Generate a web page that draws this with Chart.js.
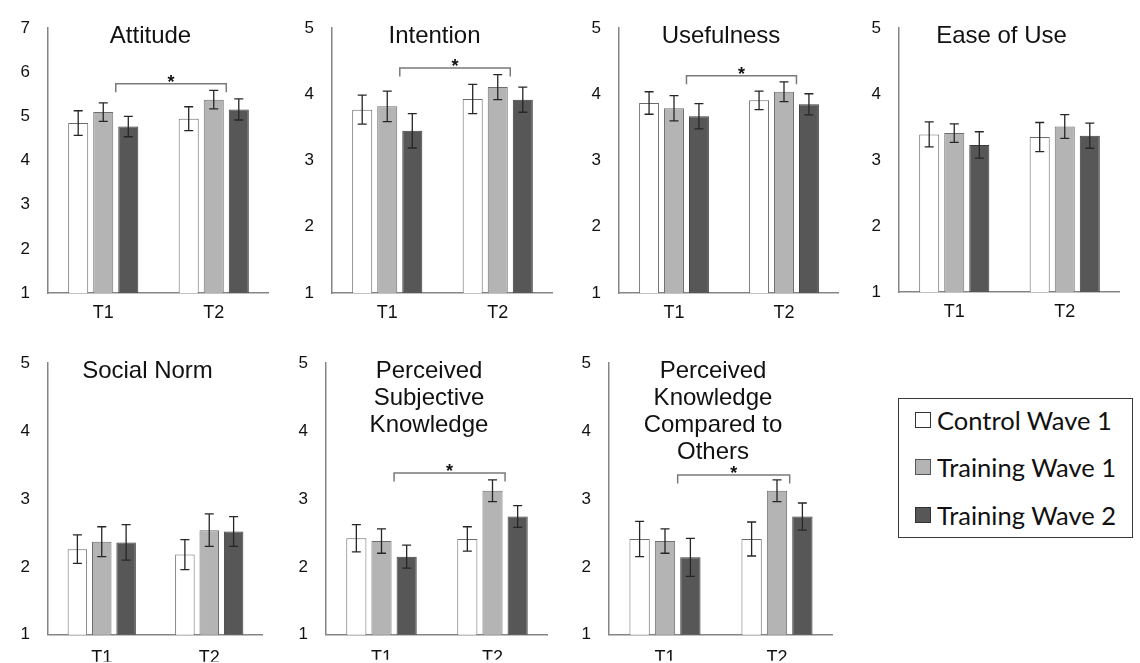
<!DOCTYPE html>
<html>
<head>
<meta charset="utf-8">
<script src="https://cdn.jsdelivr.net/npm/chart.js@4.4.1/dist/chart.umd.min.js"></script>
<style>
  body { margin: 0; background: #fff; }
  #page { position: relative; width: 1140px; height: 663px; overflow: hidden; background: #fff; }
  .panel { position: absolute; }
  #legend { position: absolute; left: 898px; top: 398px; width: 233px; height: 138px;
            border: 1.5px solid #3a3a3a; font-family: Lato, sans-serif; font-size: 25.5px; color: #111; }
  .row { position: absolute; left: 16px; height: 30px; display: flex; align-items: center; white-space: nowrap; }
  .sw { width: 16px; height: 16px; margin-right: 6px; box-sizing: border-box; }
</style>
</head>
<body>
<div id="page">
  <div class="panel" id="p0"><canvas id="c0"></canvas></div>
  <div class="panel" id="p1"><canvas id="c1"></canvas></div>
  <div class="panel" id="p2"><canvas id="c2"></canvas></div>
  <div class="panel" id="p3"><canvas id="c3"></canvas></div>
  <div class="panel" id="p4"><canvas id="c4"></canvas></div>
  <div class="panel" id="p5"><canvas id="c5"></canvas></div>
  <div class="panel" id="p6"><canvas id="c6"></canvas></div>
  <div id="legend"></div>
</div>
<script>
const timeLabels = ['T1', 'T2'];
const groupNames = ['Control Wave 1', 'Training Wave 1', 'Training Wave 2'];
const groupFill = ['#ffffff', '#b4b4b4', '#575757'];
const groupEdge = ['#6b6b6b', '#6e6e6e', '#3b3b3b'];

// means and error bars, one row per group, [T1, T2]
const attitudeMean = [[4.85, 4.95], [5.10, 5.38], [4.77, 5.16]];
const attitudeErr = [[0.28, 0.27], [0.21, 0.21], [0.23, 0.24]];
const intentionMean = [[3.77, 3.93], [3.82, 4.11], [3.45, 3.92]];
const intentionErr = [[0.22, 0.22], [0.23, 0.19], [0.26, 0.19]];
const usefulMean = [[3.87, 3.91], [3.79, 4.04], [3.67, 3.85]];
const usefulErr = [[0.17, 0.14], [0.19, 0.15], [0.19, 0.16]];
const easeMean = [[3.39, 3.35], [3.41, 3.51], [3.23, 3.37]];
const easeErr = [[0.19, 0.22], [0.14, 0.18], [0.20, 0.19]];
const normMean = [[2.26, 2.18], [2.37, 2.54], [2.36, 2.52]];
const normErr = [[0.21, 0.22], [0.22, 0.24], [0.26, 0.22]];
const subjMean = [[2.42, 2.41], [2.38, 3.12], [2.15, 2.74]];
const subjErr = [[0.20, 0.18], [0.18, 0.16], [0.17, 0.16]];
const othersMean = [[2.41, 2.41], [2.38, 3.12], [2.14, 2.74]];
const othersErr = [[0.26, 0.25], [0.18, 0.16], [0.28, 0.20]];

const panelTitles = [
  ['Attitude'], ['Intention'], ['Usefulness'], ['Ease of Use'],
  ['Social Norm'], ['Perceived', 'Subjective', 'Knowledge'],
  ['Perceived', 'Knowledge', 'Compared to', 'Others']
];
const panelMeans = [attitudeMean, intentionMean, usefulMean, easeMean, normMean, subjMean, othersMean];
const panelErrs = [attitudeErr, intentionErr, usefulErr, easeErr, normErr, subjErr, othersErr];
const yTop = [7, 5, 5, 5, 5, 5, 5];
// height of the T1-T2 significance bracket, null when none
const bracketAt = [5.74, 4.40, 4.28, null, null, 3.38, 3.35];

// ----------------------------------------------------------------
// where each small chart sits on the page
const boxes = [
  { left: 0,   top: 0,   w: 269, h: 330, padTop: 19, xh: 37, lp: 9 },
  { left: 284, top: 0,   w: 269, h: 330, padTop: 20, xh: 37, lp: 9 },
  { left: 571, top: 0,   w: 268, h: 330, padTop: 19, xh: 37, lp: 9 },
  { left: 851, top: 0,   w: 269, h: 330, padTop: 19, xh: 38, lp: 9 },
  { left: 0,   top: 330, w: 263, h: 333, padTop: 33, xh: 27, lp: 12 },
  { left: 278, top: 330, w: 270, h: 333, padTop: 33, xh: 25, lp: 12 },
  { left: 561, top: 330, w: 272, h: 333, padTop: 33, xh: 26, lp: 12 }
];

const decorations = {
  id: 'decorations',
  afterDatasetsDraw(chart, args, opts) {
    const ctx = chart.ctx;
    const y = chart.scales.y;
    const area = chart.chartArea;
    ctx.save();

    // error bars
    ctx.strokeStyle = '#262626';
    ctx.lineWidth = 1.3;
    opts.err.forEach((errs, g) => {
      chart.getDatasetMeta(g).data.forEach((bar, t) => {
        const v = opts.mean[g][t];
        const hi = y.getPixelForValue(v + errs[t]);
        const lo = y.getPixelForValue(v - errs[t]);
        ctx.beginPath();
        ctx.moveTo(bar.x, hi); ctx.lineTo(bar.x, lo);
        ctx.moveTo(bar.x - 4.5, hi); ctx.lineTo(bar.x + 4.5, hi);
        ctx.moveTo(bar.x - 4.5, lo); ctx.lineTo(bar.x + 4.5, lo);
        ctx.stroke();
      });
    });

    // significance bracket
    if (opts.bracket != null) {
      const mid = chart.getDatasetMeta(1).data, dark = chart.getDatasetMeta(2).data;
      const xl = (mid[0].x + dark[0].x) / 2;
      const xr = (mid[1].x + dark[1].x) / 2;
      const by = y.getPixelForValue(opts.bracket);
      ctx.strokeStyle = '#7a7a7a';
      ctx.lineWidth = 1.5;
      ctx.beginPath();
      ctx.moveTo(xl, by + 8.5); ctx.lineTo(xl, by); ctx.lineTo(xr, by); ctx.lineTo(xr, by + 8.5);
      ctx.stroke();
      ctx.fillStyle = '#111';
      ctx.font = 'bold 18px "Liberation Sans"';
      ctx.textAlign = 'center';
      ctx.textBaseline = 'alphabetic';
      ctx.fillText('*', (xl + xr) / 2, by + 4);
    }

    // title inside the plot
    ctx.fillStyle = '#111';
    ctx.font = '24px "Liberation Sans"';
    ctx.textAlign = 'center';
    ctx.textBaseline = 'middle';
    const cx = (area.left + area.right) / 2 - 8;
    opts.title.forEach((line, i) => ctx.fillText(line, cx, area.top + 8 + i * 27));
    ctx.restore();
  }
};

function makePanel(i) {
  const b = boxes[i];
  const holder = document.getElementById('p' + i);
  holder.style.left = b.left + 'px';
  holder.style.top = b.top + 'px';
  holder.style.width = b.w + 'px';
  holder.style.height = b.h + 'px';

  const datasets = groupNames.map((name, g) => ({
    label: name,
    data: panelMeans[i][g],
    backgroundColor: groupFill[g],
    borderColor: groupEdge[g],
    borderWidth: 1,
    categoryPercentage: 0.68,
    barPercentage: 0.8
  }));

  return new Chart(document.getElementById('c' + i), {
    type: 'bar',
    data: { labels: timeLabels, datasets: datasets },
    plugins: [decorations],
    options: {
      responsive: true,
      maintainAspectRatio: false,
      animation: false,
      layout: { padding: { top: b.padTop, right: 0, left: 0, bottom: 0 } },
      plugins: {
        legend: { display: false },
        tooltip: { enabled: false },
        decorations: {
          title: panelTitles[i],
          mean: panelMeans[i],
          err: panelErrs[i],
          bracket: bracketAt[i]
        }
      },
      scales: {
        x: {
          grid: { display: false, drawTicks: false },
          border: { color: '#858585', width: 1.5 },
          ticks: { color: '#111', padding: b.lp, font: { family: '"Liberation Sans"', size: 18 } },
          afterFit: (s) => { s.height = b.xh; }
        },
        y: {
          min: 1,
          max: yTop[i],
          grid: { display: false, drawTicks: false },
          border: { color: '#858585', width: 1.5 },
          ticks: { stepSize: 1, color: '#111', padding: 18, font: { family: '"Liberation Sans"', size: 17 } },
          afterFit: (s) => { s.width = 48; }
        }
      }
    }
  });
}

function buildLegend() {
  const box = document.getElementById('legend');
  const rowTops = [6, 53, 101];
  groupNames.forEach((name, g) => {
    const row = document.createElement('div');
    row.className = 'row';
    row.style.top = rowTops[g] + 'px';
    const sw = document.createElement('div');
    sw.className = 'sw';
    sw.style.background = groupFill[g];
    sw.style.border = '1px solid ' + (g === 1 ? '#555' : '#333');
    const txt = document.createElement('span');
    txt.textContent = name;
    row.appendChild(sw);
    row.appendChild(txt);
    box.appendChild(row);
  });
}

buildLegend();
const charts = boxes.map((b, i) => makePanel(i));
</script>
</body>
</html>
